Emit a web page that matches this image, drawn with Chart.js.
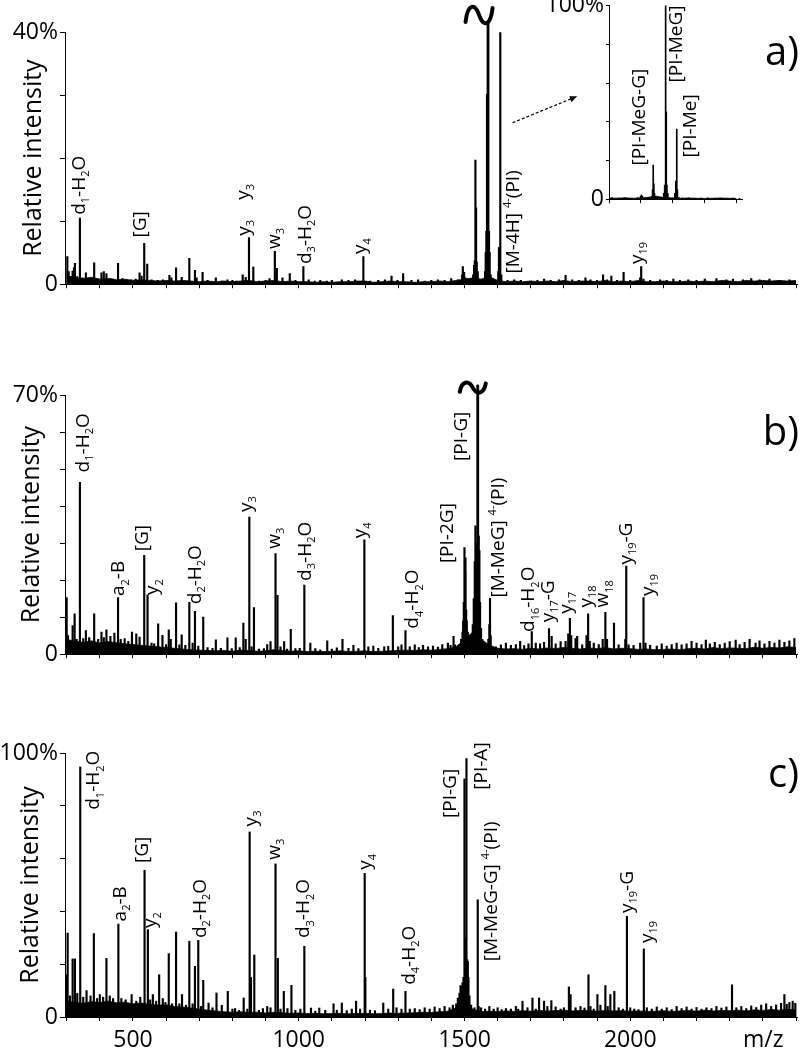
<!DOCTYPE html>
<html lang="en">
<head>
<meta charset="UTF-8">
<title>Product ion spectra a), b), c)</title>
<script src="https://cdn.jsdelivr.net/npm/chart.js"></script>
<style>
  body { margin: 0; background: #fff; }
  #page { position: relative; width: 802px; height: 1050px; overflow: hidden; }
  canvas { position: absolute; display: block; }
</style>
</head>
<body>
<div id="page">
  <canvas id="chartA" width="802" height="300" style="left:0;top:0"></canvas>
  <canvas id="chartB" width="802" height="360" style="left:0;top:310px"></canvas>
  <canvas id="chartC" width="802" height="370" style="left:0;top:680px"></canvas>
  <canvas id="chartInset" width="220" height="225" style="left:540px;top:-10px"></canvas>
</div>
<script>
// ---- data (m/z, relative intensity %) ----
const xTicks = [300, 400, 500, 600, 700, 800, 900, 1000, 1100, 1200, 1300, 1400, 1500,
                1600, 1700, 1800, 1900, 2000, 2100, 2200, 2300, 2400, 2500];
const xTickLabels = [500, 1000, 1500, 2000];

// baseline noise, one value per 25 m/z from 300 to 2500
const baseA = [1.4, 1.0, 0.9, 1.1, 0.8, 0.9, 0.7, 0.8, 0.6, 0.7,
               0.6, 0.5, 0.6, 0.5, 0.6, 0.5, 0.4, 0.5, 0.4, 0.5,
               0.4, 0.5, 0.6, 0.4, 0.5, 0.6, 0.4, 0.5, 0.4, 0.4,
               0.3, 0.4, 0.3, 0.4, 0.4, 0.5, 0.5, 0.3, 0.4, 0.5,
               0.4, 0.4, 0.3, 0.4, 0.4, 0.5, 0.4, 0.6, 0.8, 1.0,
               0.8, 1.2, 0.6, 0.4, 0.5, 0.4, 0.5, 0.4, 0.5, 0.4,
               0.6, 0.4, 0.5, 0.5, 0.4, 0.6, 0.4, 0.5, 0.4, 0.6,
               0.4, 0.4, 0.5, 0.4, 0.4, 0.5, 0.4, 0.5, 0.4, 0.6,
               0.5, 0.4, 0.6, 0.5, 0.6, 0.5, 0.6, 0.5, 0.6];
const baseB = [4.0, 3.5, 3.2, 3.6, 3.0, 3.4, 3.1, 2.8, 2.6, 2.4,
               2.2, 2.0, 1.8, 1.6, 1.4, 1.2, 1.1, 1.0, 0.9, 1.0,
               0.8, 1.1, 1.0, 0.8, 0.9, 1.2, 1.0, 0.8, 0.9, 0.7,
               0.8, 0.7, 0.8, 0.9, 0.7, 0.8, 0.9, 0.7, 0.8, 0.9,
               1.0, 1.1, 1.0, 1.2, 1.1, 1.3, 1.5, 2.0, 4.0, 6.0,
               4.0, 2.5, 1.6, 1.4, 1.5, 1.3, 1.6, 1.4, 1.7, 1.5,
               1.8, 1.6, 1.4, 1.7, 1.5, 1.8, 1.4, 1.6, 1.5, 1.3,
               1.4, 1.2, 1.3, 1.4, 1.2, 1.5, 1.6, 1.4, 1.8, 1.5,
               1.7, 1.6, 1.5, 1.9, 1.6, 1.8, 1.7, 2.0, 1.8];
const baseC = [6.0, 5.5, 5.2, 5.8, 5.5, 6.0, 5.4, 5.6, 5.0, 5.3,
               4.8, 4.5, 4.6, 4.0, 3.8, 3.4, 3.0, 2.6, 2.3, 2.0,
               1.8, 2.0, 1.7, 1.8, 1.5, 1.8, 1.6, 1.4, 1.5, 1.3,
               1.4, 1.2, 1.3, 1.4, 1.2, 1.3, 1.4, 1.2, 1.3, 1.5,
               1.4, 1.5, 1.6, 1.8, 1.7, 2.0, 2.2, 3.5, 6.0, 3.0,
               2.0, 2.2, 2.0, 2.3, 2.1, 2.4, 2.2, 2.5, 2.3, 2.4,
               2.6, 2.3, 2.5, 2.4, 2.2, 2.5, 2.3, 2.4, 2.2, 2.3,
               2.1, 2.2, 2.4, 2.1, 2.3, 2.5, 2.2, 2.6, 2.3, 2.5,
               2.4, 2.6, 2.3, 2.7, 2.5, 2.8, 2.6, 2.9, 2.7];

// peaks [m/z, %]
const peaksA = [[302,4.4],[306,2.0],[312,1.2],[318,2.1],[322,2.6],[325,3.3],[332,1.2],[340,10.5],[348,1.0],
  [358,1.8],[370,0.9],[383,3.4],[395,0.8],[405,1.8],[412,2.0],[420,1.7],[432,0.9],[440,0.8],[455,3.3],
  [468,0.9],[482,0.7],[495,0.7],[508,0.8],[520,1.8],[526,1.3],[534,6.5],[543,3.2],[556,0.7],[575,0.6],
  [590,0.7],[610,1.4],[616,1.0],[630,2.6],[647,1.1],[670,4.1],[687,2.2],[692,1.0],[710,1.9],[725,0.6],
  [750,1.0],[768,0.5],[785,0.7],[800,0.6],[812,0.5],[831,1.5],[840,1.1],[850,7.4],[863,2.7],[880,0.5],
  [900,0.6],[912,0.9],[928,5.2],[934,2.5],[951,1.0],[973,1.7],[990,0.6],[1014,2.8],[1030,0.7],[1048,0.5],
  [1065,0.6],[1085,0.5],[1100,0.6],[1130,0.7],[1150,0.6],[1170,0.7],[1195,4.4],[1215,0.5],[1240,0.6],
  [1260,0.7],[1280,1.3],[1298,0.6],[1315,1.7],[1340,0.6],[1360,0.7],[1380,0.5],[1400,0.6],[1420,0.7],
  [1440,0.6],[1460,0.9],[1480,0.7],[1493,1.5],[1495,2.8],[1499,1.9],[1503,1.0],[1526,1.5],[1529,3.0],
  [1531,3.7],[1533,19.7],[1535,12.1],[1537,3.5],[1540,2.0],[1544,0.8],[1562,2.0],[1564,5.0],[1566,8.4],
  [1568,30.1],[1570,41.4],[1572,41.4],[1574,8.4],[1576,5.0],[1579,1.5],[1602,2.0],[1604,5.8],[1606,5.8],
  [1608,39.9],[1611,1.5],[1630,0.6],[1650,0.7],[1670,0.6],[1700,0.5],[1720,0.6],[1740,0.8],[1760,0.6],
  [1785,0.7],[1805,1.4],[1825,0.7],[1845,0.6],[1865,1.0],[1880,0.7],[1900,0.6],[1918,1.5],[1930,0.7],
  [1943,1.3],[1960,0.6],[1980,1.9],[2000,0.6],[2030,1.0],[2033,2.8],[2040,0.8],[2060,0.6],[2090,0.7],
  [2110,0.6],[2130,0.8],[2150,0.6],[2175,0.7],[2200,0.6],[2225,0.8],[2260,0.9],[2290,0.7],[2310,0.8],
  [2340,0.7],[2365,0.9],[2390,0.7],[2420,0.8],[2450,0.6],[2480,0.7]];

const peaksB = [[300,15.3],[304,5.0],[310,3.5],[318,7.7],[324,10.9],[330,4.0],[340,46.4],[350,4.2],[358,6.4],
  [368,4.5],[383,10.9],[395,4.0],[405,6.0],[412,4.5],[420,6.6],[432,4.8],[444,5.7],[455,15.3],[463,4.0],
  [475,4.2],[486,3.5],[497,6.0],[510,5.5],[520,4.6],[534,26.7],[544,16.0],[556,3.0],[564,2.8],[576,8.2],
  [589,5.1],[600,2.6],[608,6.6],[614,4.0],[630,13.9],[640,2.5],[647,5.2],[658,2.4],[670,14.0],[680,3.0],
  [687,11.6],[697,2.2],[712,10.0],[725,1.8],[740,1.6],[750,3.9],[765,1.6],[785,4.4],[798,1.5],[810,4.4],
  [822,1.8],[833,8.4],[840,4.0],[851,37.0],[858,2.0],[865,12.6],[880,1.4],[895,1.5],[905,2.6],[915,3.4],
  [930,27.2],[936,15.9],[945,2.0],[956,3.4],[965,1.4],[976,6.7],[990,1.5],[1003,1.6],[1017,18.7],[1035,3.0],
  [1050,1.5],[1065,1.2],[1086,3.6],[1100,1.4],[1115,1.7],[1132,4.0],[1150,1.6],[1165,2.4],[1180,1.5],
  [1198,30.9],[1210,2.0],[1225,2.2],[1240,1.6],[1258,2.0],[1270,2.1],[1284,10.4],[1300,2.0],[1310,2.5],
  [1322,6.4],[1335,2.0],[1350,2.5],[1362,1.8],[1375,2.4],[1390,2.0],[1405,2.2],[1420,1.9],[1433,2.6],
  [1450,3.0],[1458,2.4],[1467,4.8],[1472,2.5],[1490,4.0],[1494,6.0],[1496,9.0],[1498,14.0],[1500,28.8],
  [1502,22.0],[1503,26.0],[1505,12.0],[1507,9.0],[1510,6.0],[1514,4.0],[1520,5.0],[1525,8.0],[1528,15.0],
  [1531,25.0],[1533,34.7],[1535,28.0],[1537,30.0],[1539,72.7],[1541,72.7],[1543,32.0],[1545,28.0],
  [1547,14.0],[1550,7.0],[1554,4.0],[1572,4.0],[1575,8.0],[1577,15.1],[1579,5.0],[1595,2.0],[1610,2.5],
  [1625,3.0],[1640,2.4],[1655,2.6],[1668,3.5],[1680,2.3],[1693,2.8],[1703,6.1],[1715,3.0],[1728,2.8],
  [1740,3.2],[1755,6.9],[1763,4.8],[1775,2.8],[1790,3.4],[1805,3.5],[1813,5.5],[1818,9.7],[1822,5.0],
  [1835,4.2],[1840,4.8],[1855,2.5],[1868,5.0],[1873,10.9],[1878,3.5],[1890,3.0],[1905,2.6],[1917,4.0],
  [1925,11.3],[1930,4.0],[1951,8.4],[1965,2.5],[1985,4.0],[1988,23.8],[1995,2.5],[2010,2.4],[2030,3.0],
  [2040,15.3],[2046,3.0],[2060,2.4],[2080,2.2],[2095,2.8],[2110,2.2],[2125,2.6],[2140,3.0],[2155,2.5],
  [2170,2.8],[2185,3.5],[2200,3.0],[2215,2.6],[2228,3.8],[2240,2.8],[2255,3.2],[2270,2.6],[2285,3.0],
  [2300,3.4],[2318,3.8],[2330,2.6],[2345,3.2],[2360,4.0],[2378,3.0],[2390,3.6],[2405,2.8],[2420,3.5],
  [2435,3.0],[2450,3.8],[2465,3.2],[2480,3.6],[2495,4.2]];

const peaksC = [[299,16.0],[303,31.8],[310,8.0],[318,22.0],[325,22.0],[332,9.0],[341,94.7],[350,7.5],
  [360,10.0],[372,8.0],[382,31.6],[392,7.0],[400,8.5],[410,7.5],[420,22.2],[430,8.0],[440,7.0],[456,35.2],
  [465,7.0],[478,6.5],[496,8.5],[510,6.0],[522,7.5],[535,55.6],[545,33.1],[552,6.5],[560,8.5],[570,6.0],
  [579,16.0],[590,7.0],[598,5.5],[608,24.0],[618,5.0],[630,32.2],[640,5.0],[648,8.5],[660,4.5],[670,28.7],
  [680,5.0],[687,19.2],[697,29.0],[705,4.0],[712,13.9],[728,5.3],[740,3.5],[752,9.1],[768,4.4],[786,9.7],
  [800,3.0],[808,3.2],[820,2.5],[834,7.2],[845,3.0],[852,70.1],[856,15.0],[866,23.5],[880,2.5],[892,3.2],
  [905,4.0],[915,3.5],[930,58.0],[937,22.2],[945,3.0],[955,9.7],[966,3.2],[978,12.0],[990,2.5],[1005,3.0],
  [1017,26.8],[1037,3.4],[1050,2.2],[1062,3.4],[1080,2.5],[1105,5.0],[1115,2.6],[1130,5.3],[1145,2.4],
  [1160,3.0],[1173,6.0],[1185,3.0],[1199,54.4],[1201,15.0],[1215,2.6],[1230,2.4],[1255,5.3],[1270,3.0],
  [1285,10.6],[1295,3.5],[1310,3.0],[1322,9.7],[1335,3.0],[1350,3.2],[1365,2.8],[1380,3.5],[1395,3.0],
  [1410,3.8],[1425,3.2],[1440,4.0],[1455,3.5],[1465,4.5],[1475,5.0],[1480,7.2],[1485,9.0],[1488,11.9],
  [1491,11.4],[1494,13.0],[1497,15.0],[1500,90.2],[1503,30.0],[1506,97.9],[1508,21.7],[1510,21.0],
  [1512,15.0],[1515,8.0],[1520,4.5],[1530,3.5],[1540,44.4],[1543,4.0],[1550,3.5],[1562,3.0],[1575,4.0],
  [1588,3.0],[1600,3.5],[1612,2.8],[1625,3.2],[1640,3.0],[1655,4.0],[1662,3.0],[1675,6.0],[1690,3.5],
  [1705,7.2],[1715,3.0],[1725,7.2],[1740,6.0],[1750,4.0],[1762,6.2],[1775,3.8],[1790,3.0],[1800,3.5],
  [1815,11.4],[1820,8.5],[1835,3.5],[1850,4.0],[1862,3.4],[1874,16.0],[1880,4.0],[1890,3.0],[1901,8.5],
  [1910,4.5],[1925,11.9],[1932,4.0],[1940,8.5],[1952,9.7],[1965,3.5],[1978,3.0],[1990,38.1],[2000,3.5],
  [2012,3.0],[2025,2.8],[2041,25.8],[2050,3.5],[2065,3.0],[2080,3.8],[2095,3.0],[2110,3.5],[2125,2.8],
  [2140,4.0],[2155,3.2],[2170,3.8],[2185,3.0],[2200,3.6],[2215,3.0],[2230,3.5],[2245,3.2],[2260,4.0],
  [2275,3.4],[2290,3.8],[2307,12.2],[2320,3.5],[2335,4.0],[2350,3.2],[2365,4.2],[2380,3.6],[2395,4.5],
  [2410,5.0],[2425,4.0],[2440,4.6],[2455,5.2],[2465,8.5],[2472,4.8],[2480,5.5],[2490,6.0],[2498,5.2]];

// inset of a): one value per 25 m/z from 1300
const baseInset = [0.6, 0.5, 0.7, 0.5, 0.6, 1.0, 1.5, 0.8, 0.6, 0.5, 0.6, 0.5, 0.4, 0.5, 0.6, 0.5, 0.4];
const insetTicks = [1300, 1400, 1500, 1600, 1700];
const peaksInset = [[1310,0.8],[1330,0.6],[1350,0.7],[1370,0.5],[1390,0.8],[1399,1.5],[1402,2.2],[1405,1.5],
  [1410,0.6],[1425,0.8],[1434,1.5],[1437,5.0],[1439,17.7],[1441,8.0],[1443,3.0],[1446,1.5],[1455,0.8],
  [1465,0.9],[1472,3.0],[1475,7.3],[1478,100],[1480,45.2],[1482,7.3],[1485,3.0],[1490,0.8],[1500,0.7],
  [1507,3.0],[1510,9.4],[1513,36.3],[1515,5.0],[1520,0.8],[1530,0.6],[1550,0.7],[1570,0.5],[1590,0.6],
  [1610,0.7],[1630,0.5],[1650,0.6],[1670,0.5],[1690,0.6],[1710,0.5]];

// peak annotations [text, m/z of text baseline, % where text starts]
const labelsA = [['d_{1}-H_{2}O', 354, 11.0], ['[G]', 539, 7.4], ['y_{3}', 851, 13.4], ['y_{3}', 854, 7.7],
  ['w_{3}', 944, 5.6], ['d_{3}-H_{2}O', 1036, 3.2], ['y_{4}', 1204, 4.8],
  ['[M-4H] ^{4-}(PI)', 1665, 1.7], ['y_{19}', 2039, 3.2]];
const labelsB = [['d_{1}-H_{2}O', 367, 49.1], ['a_{2}-B', 474, 15.7], ['[G]', 544, 27.8], ['y_{2}', 577, 16.0],
  ['d_{2}-H_{2}O', 704, 13.5], ['y_{3}', 859, 38.4], ['w_{3}', 944, 28.5], ['d_{3}-H_{2}O', 1037, 19.8],
  ['y_{4}', 1204, 31.3], ['d_{4}-H_{2}O', 1361, 6.9], ['[PI-2G]', 1464, 24.6], ['[PI-G]', 1509, 52.2],
  ['[M-MeG] ^{4-}(PI)', 1619, 15.3], ['d_{16}-H_{2}O', 1711, 6.0], ['y_{17}-G', 1769, 8.6],
  ['y_{17}', 1824, 10.9], ['y_{18}', 1885, 12.6], ['w_{18}', 1934, 12.6], ['y_{19}-G', 2004, 24.2],
  ['y_{19}', 2071, 15.7]];
const labelsC = [['d_{1}-H_{2}O', 399, 78.5], ['a_{2}-B', 479, 36.2], ['[G]', 544, 58.3], ['y_{2}', 571, 33.7],
  ['d_{2}-H_{2}O', 719, 29.9], ['y_{3}', 874, 72.2], ['w_{3}', 944, 59.6], ['d_{3}-H_{2}O', 1032, 29.9],
  ['y_{4}', 1219, 55.8], ['d_{4}-H_{2}O', 1351, 12.2], ['[PI-G]', 1474, 75.4], ['[PI-A]', 1569, 86.1],
  ['[M-MeG-G] ^{4-}(PI)', 1597, 21.1], ['y_{19}-G', 2009, 39.4], ['y_{19}', 2069, 28.0]];
const labelsInset = [['[PI-MeG-G]', 1414, 17.4], ['[PI-MeG]', 1530, 60.4], ['[PI-Me]', 1572, 21.6]];

const FONT = '"Open Sans", "Noto Sans", sans-serif';

// draw text with _{sub} and ^{sup} parts along the current x axis
function drawRich(ctx, text, size) {
  const parts = [];
  let i = 0;
  while (i < text.length) {
    if ((text[i] === '_' || text[i] === '^') && text[i + 1] === '{') {
      const end = text.indexOf('}', i);
      parts.push({ t: text.slice(i + 2, end), k: text[i] });
      i = end + 1;
    } else {
      let j = i;
      while (j < text.length && !((text[j] === '_' || text[j] === '^') && text[j + 1] === '{')) j++;
      parts.push({ t: text.slice(i, j), k: '' });
      i = j;
    }
  }
  let x = 0;
  parts.forEach(p => {
    const s = p.k ? Math.round(size * 0.6) : size;
    ctx.font = s + 'px ' + FONT;
    const dy = p.k === '_' ? size * 0.22 : (p.k === '^' ? -size * 0.42 : 0);
    ctx.fillText(p.t, x, dy);
    x += ctx.measureText(p.t).width;
  });
}

function tilde(ctx, cx, cy, w, h) {
  ctx.save();
  ctx.lineWidth = 4;
  ctx.lineCap = 'round';
  ctx.strokeStyle = '#000';
  ctx.beginPath();
  ctx.moveTo(cx - w / 2, cy + h * 0.35);
  ctx.bezierCurveTo(cx - w * 0.42, cy - h * 0.6, cx - w * 0.15, cy - h * 0.6, cx, cy);
  ctx.bezierCurveTo(cx + w * 0.15, cy + h * 0.6, cx + w * 0.42, cy + h * 0.6, cx + w / 2, cy - h * 0.35);
  ctx.stroke();
  ctx.restore();
}

// overlay: peak labels, axis title, panel letter, extras
function overlay(cfg) {
  return {
    id: 'overlay',
    afterDatasetsDraw(chart) {
      const { ctx, scales: { x, y }, chartArea } = chart;
      ctx.save();
      ctx.fillStyle = '#000';
      ctx.textBaseline = 'alphabetic';
      ctx.textAlign = 'left';
      cfg.labels.forEach(([text, mz, val]) => {
        ctx.save();
        ctx.translate(x.getPixelForValue(mz), y.getPixelForValue(val));
        ctx.rotate(-Math.PI / 2);
        drawRich(ctx, text, 19);
        ctx.restore();
      });
      if (cfg.title) {
        ctx.save();
        ctx.translate(cfg.titleX, (chartArea.top + chartArea.bottom) / 2);
        ctx.rotate(-Math.PI / 2);
        ctx.textAlign = 'center';
        ctx.font = '25px ' + FONT;
        ctx.fillText('Relative intensity', 0, 0);
        ctx.restore();
      }
      if (cfg.panel) {
        ctx.font = '40px ' + FONT;
        ctx.textAlign = 'right';
        ctx.fillText(cfg.panel, 799, cfg.panelY);
      }
      if (cfg.xTitle) {
        ctx.font = '23px ' + FONT;
        ctx.textAlign = 'left';
        ctx.fillText('m/z', 743, cfg.xTitleY);
      }
      if (cfg.brk) {
        tilde(ctx, x.getPixelForValue(cfg.brk[0]), y.getPixelForValue(cfg.brk[1]), cfg.brk[2], cfg.brk[3]);
      }
      if (cfg.arrow) {
        const [p0, p1] = cfg.arrow;
        const x0 = x.getPixelForValue(p0[0]), y0 = y.getPixelForValue(p0[1]);
        const x1 = x.getPixelForValue(p1[0]), y1 = y.getPixelForValue(p1[1]);
        const a = Math.atan2(y1 - y0, x1 - x0);
        ctx.strokeStyle = '#000';
        ctx.lineWidth = 1.2;
        ctx.setLineDash([3, 2]);
        ctx.beginPath();
        ctx.moveTo(x0, y0);
        ctx.lineTo(x1 - 5 * Math.cos(a), y1 - 5 * Math.sin(a));
        ctx.stroke();
        ctx.setLineDash([]);
        ctx.beginPath();
        ctx.moveTo(x1, y1);
        ctx.lineTo(x1 - 8 * Math.cos(a - 0.4), y1 - 8 * Math.sin(a - 0.4));
        ctx.lineTo(x1 - 8 * Math.cos(a + 0.4), y1 - 8 * Math.sin(a + 0.4));
        ctx.closePath();
        ctx.fill();
      }
      ctx.restore();
    }
  };
}

function spectrum(id, cfg) {
  const baseStep = 25;
  return new Chart(document.getElementById(id), {
    type: 'bar',
    data: {
      datasets: [
        {
          type: 'bar',
          data: cfg.peaks.map(p => ({ x: p[0], y: p[1] })),
          backgroundColor: '#000',
          borderWidth: 0,
          barThickness: cfg.bar || 1.5,
          clip: { left: 0, top: 20, right: 0, bottom: 0 }
        },
        {
          type: 'line',
          data: cfg.base.map((v, i) => ({ x: cfg.baseStart + i * baseStep, y: v })),
          borderColor: '#000',
          borderWidth: 0.8,
          backgroundColor: '#000',
          fill: 'origin',
          pointRadius: 0,
          tension: 0
        }
      ]
    },
    options: {
      responsive: false,
      animation: false,
      events: [],
      layout: { padding: { top: cfg.top, left: 0, right: cfg.right || 0, bottom: 0 } },
      plugins: { legend: { display: false }, tooltip: { enabled: false } },
      scales: {
        x: {
          type: 'linear',
          min: cfg.xmin,
          max: cfg.xmax,
          offset: false,
          afterBuildTicks: s => { s.ticks = cfg.xticks.map(v => ({ value: v })); },
          afterFit: s => { s.height = cfg.xh; },
          grid: { offset: false, drawOnChartArea: false, drawTicks: true, tickLength: 4, color: '#000' },
          border: { display: true, color: '#000', width: 1 },
          ticks: {
            autoSkip: false, maxRotation: 0, padding: 6, color: '#000',
            font: { family: FONT, size: 23 },
            callback: v => (cfg.xlabels.includes(v) ? String(v) : '')
          }
        },
        y: {
          min: 0,
          max: cfg.ymax,
          afterFit: s => { s.width = cfg.yw; },
          grid: { drawOnChartArea: false, drawTicks: true, tickLength: cfg.ytl || 5, color: '#000' },
          border: { display: true, color: '#000', width: 1 },
          ticks: {
            stepSize: 10, padding: 2, color: '#000',
            font: { family: FONT, size: 23 },
            callback: v => (v === 0 ? '0' : (v === cfg.ymax ? cfg.ymax + '%' : ''))
          }
        }
      }
    },
    plugins: [overlay(cfg)]
  });
}

spectrum('chartA', {
  peaks: peaksA, base: baseA, baseStart: 300, labels: labelsA,
  xmin: 295, xmax: 2506, xticks: xTicks, xlabels: [], xh: 12,
  ymax: 40, yw: 65, top: 32,
  title: true, titleX: 41, panel: 'a)', panelY: 65,
  brk: [1544, 42.7, 27, 20], arrow: [[1645, 25.6], [1840, 29.8]]
});

spectrum('chartB', {
  peaks: peaksB, base: baseB, baseStart: 300, labels: labelsB,
  xmin: 295, xmax: 2506, xticks: xTicks, xlabels: [], xh: 13,
  ymax: 70, yw: 65, top: 85,
  title: true, titleX: 39, panel: 'b)', panelY: 135,
  brk: [1525, 72.0, 26, 12]
});

spectrum('chartC', {
  peaks: peaksC, base: baseC, baseStart: 300, labels: labelsC,
  xmin: 295, xmax: 2506, xticks: xTicks, xlabels: xTickLabels, xh: 33,
  ymax: 100, yw: 65, top: 73,
  title: true, titleX: 38, panel: 'c)', panelY: 107,
  xTitle: true, xTitleY: 367
});

spectrum('chartInset', {
  peaks: peaksInset, base: baseInset, baseStart: 1300, labels: labelsInset, bar: 1,
  xmin: 1300, xmax: 1718, xticks: insetTicks, xlabels: [], xh: 12,
  ymax: 100, yw: 69, top: 15, right: 18, ytl: 3
});
</script>
</body>
</html>
